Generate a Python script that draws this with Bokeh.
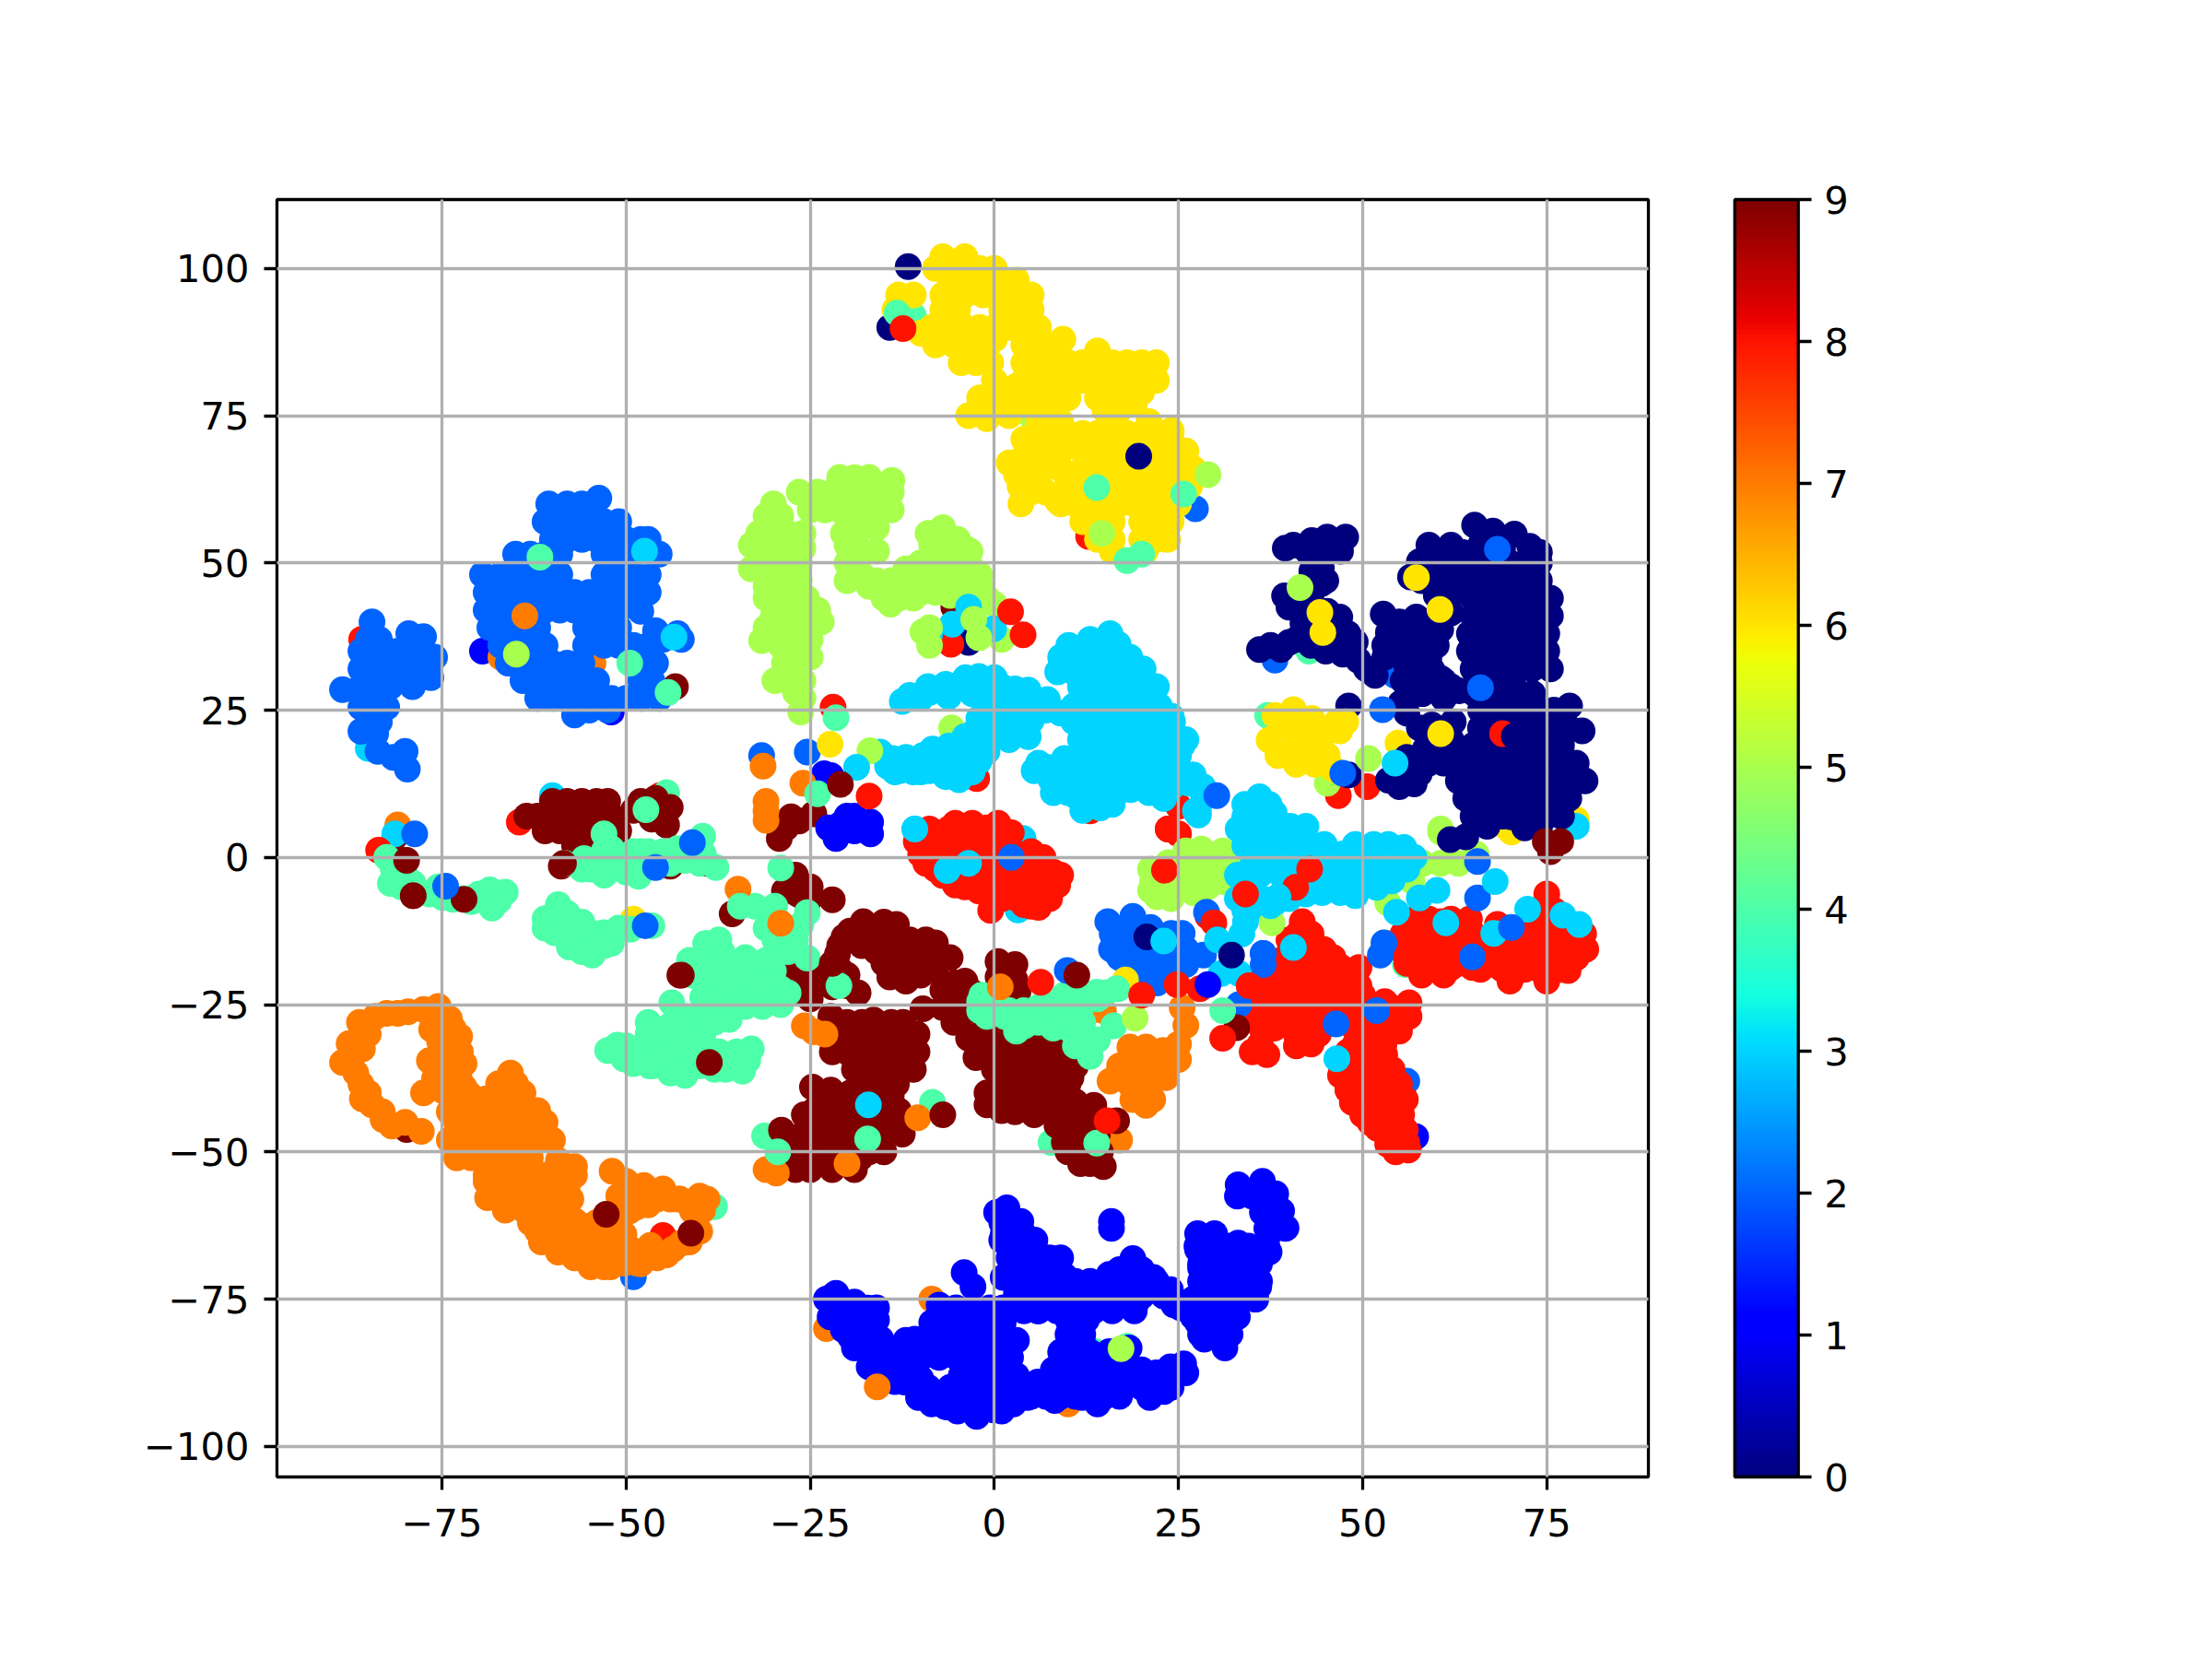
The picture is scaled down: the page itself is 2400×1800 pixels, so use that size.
import numpy as np
from bokeh.plotting import figure
from bokeh.embed import file_html
from bokeh.resources import INLINE
from bokeh.models import ColorBar, FixedTicker, LinearColorMapper

def row(y, *xs):
    return [(x, y) for x in xs]

x_ticks = [-75, -50, -25, 0, 25, 50, 75]
y_ticks = [-100, -75, -50, -25, 0, 25, 50, 75, 100]
bar_ticks = [0, 1, 2, 3, 4, 5, 6, 7, 8, 9]

points_0 = [(40.6,53),(43.1,53.8),(45.2,54.4),(47.7,54.4),(39.5,52.5),(44.4,49.1),(44.4,46.5),(39.4,44.4),(41.5,43.4),(43.1,48.6),(46.9,40.8),(45.2,41.8),(41.9,39.7),
 (36,35.3),(38.9,35.3),(42.3,37.7),(46.9,37.1),(49,36.6),(47.3,34.5),(49.4,33.5),(51.7,30.9),(44.5,36.5),(41,37),
 (52.8,41.3),(53.5,38.2),(56,38.2),(57.3,40.8),(60.6,38.7),(54.4,36.1),(56.9,35),(56,32.4),(59.4,31.9),(58.5,30.4),(60.6,30.4),(63.1,28.3),(58.1,27.8),(55.2,26.2),(58.5,40),
 (65.2,56.4),(67.7,55.4),(70.6,54.9),(72.7,52.8),(74,51.8),(59.4,51.8),(63.5,51.8),(57.7,50.2),(56.5,47.6),(66,53),(69,52.5),
 (78.1,25.7),(79.8,21.5),(76.9,23.6),(70.6,28.8),(68.5,28.3),(73.1,27.8),(65.2,27.8),(61,27),(57.7,22),(59.4,22.5),(62.3,23),
 (57.7,14.2),(53.5,13.1),(55.6,15.2),(58.5,18.4),(60.6,18.4),(63.1,18.4),(61.9,3),(64,3.5),(70.2,6.9),(66.9,5.3),
 (37.5,36),(40,36.5),(43,36),(45,35),(50.5,32),(46,39),(48,38),(43,41),(40,42.5),(43,44.5),(45,47),(42.5,52),(45,52),(47,52),(55,40),(55,36.5),(53,34),(55.5,30),(57,29),(62,29),(59,34),(60,36),(57.5,37.5),(53,36),(62,48),(59,53),(62,53),(61,30),(56,24.5),(60,20),(62,20),(56,17),(59,16),(57,12.5),(55,12)]
points_0 += row(50, 58,60,62,64,66,68,70,72,74) + row(47, 58,60,62,64,66,68,70,72,74) + row(44, 65,67,69,71,73,75.5)
points_0 += row(41, 65,67,69,71,73,75.5) + row(38, 64.5,66.5,68.5,70.5,72.5,75) + row(35, 64.5,66.5,68.5,70.5,72.5,75)
points_0 += row(32, 65,67,69,71,73,75.5) + row(44.5, 60,62) + row(41.5, 62)
points_0 += row(25, 66,68,70,72,74,76) + row(22, 66,68,70,72,74,76,78) + row(19, 65,67,69,71,73,75,77)
points_0 += row(16, 61,63,65,67,69,71,73,75,77,79) + row(13, 63,65,67,69,71,73,75,77,79,80.2)
points_0 += row(10, 64,66,68,70,72,74,76,78) + row(7, 65,67,69,71,73,75,77) + row(5, 72,74)

points_1 = [(-22.8,-75),(-20.9,-76.5),(-22.3,-78),(-20.5,-80.2),(-18.2,-78.6),(-17.2,-76.5),(-18.2,-81.8),(-15.4,-81.8),(-19,-83.3),(-16.8,-84.9),(-14.5,-86),(-15.4,-88),(-12.2,-89.1),(-11.7,-86),(-10.3,-91.7),(-8.5,-92.8),(-6.6,-93.3),
 (-10.8,-81.8),(-8.5,-79),(-7.5,-76),(-5.2,-76.5),(-2.9,-76.5),(-0.6,-76.5),(1.2,-76.5),(-8.5,-82.3),(-6.1,-81.2),(-3.4,-78.6),(-0.6,-79),(-7.5,-84.9),(-4.8,-84.9),(-2,-82.8),(0.8,-81.8),(1.2,-79),
 (-4.3,-88),(-1.5,-87),(1.2,-84.9),(2.2,-84.9),(-3.4,-91.2),(-0.6,-90.1),(1.7,-88),(-2.4,-94.9),(-0.1,-93.8),(2.6,-92.8),(-4.3,-92.2),
 (-4.1,-70.5),(-2.9,-72.9),(1.2,-71.3),
 (0.3,-60.3),(1.7,-59.5),(3.6,-61.8),(1.2,-64),(4,-64),(5.4,-65.5),(2.2,-67),(4.9,-68.1),(7.7,-68.1),(2.2,-70.8),(4.9,-71.3),(7.7,-70.8),(3.1,-73.9),(5.9,-73.9),(8.6,-73.4),(11.9,-73.9),(5.9,-77),(11,-76.5),(14.2,-76),(15.6,-70.8),(18.8,-68.1),(18.3,-71.3),(21.6,-71.3),(23.9,-73.4),(16,-73.9),(19.3,-75.5),(22.5,-73.9),(24.4,-76),(11.2,-79),(11.9,-81.8),
 (15.9,-61.8),(15.9,-63),
 (9.1,-83.9),(11.4,-84.9),(15.6,-83.9),(18.3,-83.3),(5.9,-89.1),(8.6,-90.1),(11,-88),(13.3,-89.6),(16,-88),(16.5,-90.7),(11.9,-91.7),(14,-92.8),(8.2,-92.2),(19.7,-88),(21.1,-91.7),(23,-90.7),(23.9,-86.5),(25.7,-86),(4.5,-91.7),
 (27.6,-63.9),(29.9,-63.9),(27.6,-66.6),(33.1,-55.6),(36.4,-55),(38.2,-57.1),(36.4,-60.3),(38.7,-60.8),(39.6,-62.9),(37.3,-63.9),(33.1,-65.5),(30.8,-67.1),(35,-66.6),(37.3,-67),(28,-69.7),(30.8,-70.2),(33.6,-69.2),(29,-72.9),(31.7,-72.9),(35.9,-72.9),(29.4,-75.5),(32.2,-75.5),(35.4,-75),(27.1,-76),(27.6,-79),(30.4,-78.1),(28.5,-81.8),(31.3,-80.7),(31.3,-83.3),(25.3,-76.5),
 (-22.5,5),(-21.5,3.2),(-20,7),(-19,7),(-21,5.5),(-16.8,6),(-16.8,4),(-19,4.5),
 (-21.5,-74),(-19,-75.5),(-21,-78.5),(-19,-78),(-16,-78.5),(-17,-80),(-19.5,-81.5),(-17.5,-83),(-14,-84),(-15,-83),(-13,-87),(-13.5,-89),(-11,-88),(-9,-90),(-10,-88.5),(-6,-90),(-7,-91.5),(-16,-76.5),(-13.5,-85),(-17,-86.5)]
points_1 += row(-79, -6,-3.5) + row(-82, -12,-9,-6,-3.5,-1,1,3) + row(-85, -10,-5,-2.5,0) + row(-88, -4.5,-2,0.5,3)
points_1 += row(-91, -6,-4,-1.5,1,3) + row(-94, -5,-2,1) + row(-62, 1,3.5) + row(-65, 1,3,5.5) + row(-68, 2,4.5,7.5,9)
points_1 += row(-71, 2,5,7.5,9.5) + row(-74, 3,6,8.5,11,13.5) + row(-77, 4,6,8.5,11,13.5,16,19) + row(-72, 11,13,15,17,20,22)
points_1 += row(-74.5, 14,17,20,23) + row(-78.5, 10,12.5) + row(-81, 10,12) + row(-84, 9,11,13) + row(-87, 8,10,12,14,16,18,20)
points_1 += row(-89, 7,9,12,15,17,19) + row(-91.5, 5,7,9,11,13,15,17) + row(-90, 20,22,24) + row(-87.5, 22,24,26)
points_1 += row(-66, 27.5,30,32,34.5,37) + row(-69, 28,30,32,34,36) + row(-72, 28,30,32,34,36) + row(-75, 27,29,31,33,35.5)
points_1 += row(-78, 27,29,31,33) + row(-81, 28,30,32) + row(-57.5, 33,35,37) + row(-60, 37,39) + row(-63, 37,39.5) + row(-70, 17,19,20)

points_2 = [(-53.7,61),(-56,60),(-58,60),(-60.5,60),(-47,54),(-45.5,51.5),(-47,51.5),(-49,51.5),(-51,51.5),(-53,51.5),(-59,51.5),(-61,51.5),(-63,51.5),(-65,51.5),
 (-48,41.8),(-47.4,33),(-46,33),(-48,30),(-46.5,30),(-45.5,27),(-57,24.2),(-55,25),(-52.5,25),(-43,38),(-42.5,37),(-45,37),(-46,38.5),
 (-84.5,40),(-85,37),(-83.5,37),(-79.5,38),(-77.5,37.5),(-81,35),(-78.5,35),(-76,34),(-80.5,32),(-78,31.5),(-76.5,30.5),(-79,29),(-86,35),(-84,34),(-82.5,32),(-86,32),(-84,31),(-82,29),(-88.5,28.5),(-86,29),(-84,28),(-86,25.5),(-84,25),(-82.5,25.5),
 (-85,23),(-86,21.4),(-83.5,23),(-84,21),(-83.7,18),(-81.6,17),(-80,18),(-79.7,15),(-81,17),
 (15.4,-10.9),(18.8,-10),(17.8,-11.9),(21.2,-11.9),(15.9,-15.6),(18.3,-14),(18.8,-17.1),(21.2,-16.6),(24,-12.9),(25.5,-12.9),(23.6,-15.6),(26,-15.6),(28.4,-16.6),(23,-17.6),(26,-18.2),(22.1,-21.3),(16,-13),(20.2,-12.2),(17,-17),(20,-19),(24,-19.5),(22,-19),(19,-13),(23,-14)]
points_2 += row(57, -61,-59,-57,-55,-53,-51) + row(54, -60,-58,-56,-54,-52,-50,-48)
points_2 += row(48, -69.5,-67,-65,-63,-61,-59,-53,-51,-49,-47) + row(45, -69,-67,-65,-63,-61,-59,-57,-55,-53,-51,-49,-47)
points_2 += row(42, -69,-67,-65,-63,-61,-59,-57,-55,-53,-51) + row(39, -68.5,-66,-64,-62,-55.5,-53,-51)
points_2 += row(36, -67,-65,-63,-61,-55.5,-53,-51,-49,-47) + row(33, -66,-64,-62,-60,-58,-56)
points_2 += row(30, -64,-62,-60,-58,-56,-54) + row(27, -62,-60,-58,-56,-54,-52,-50,-48)

points_3 = [(-11.5,27.5),(-8.8,28),(-6.6,29.4),(-3.9,30.5),(-2.1,30.7),(0,30.5),(-6.2,27.3),(-3,27.8),(-0.4,27.8),(2.8,28.6),(4.6,28.4),(7.2,26.8),(2.3,26.3),(5,25.7),
 (-2.1,23.6),(0,23.6),(2.3,23.6),(5,23.2),(-2.6,21.5),(0.1,21.5),(2.8,21.5),(4.6,20.5),(-2.6,19.4),(-0.8,19.4),(-12.5,26.5),
 (-8.4,18.4),(-6.2,18.9),(-3.9,18.9),(-9.7,17.3),(-11.5,15.8),(-12.9,14.7),(-8.8,14.7),(-6.6,13.7),(-4.8,13.2),(-4.4,15.3),(-2.1,16.3),(-13.8,16.8),(-15.5,17.9),(-10,14.5),
 (15.7,38),(16.8,36.2),(10.1,36),(12.5,35),(14.4,34),(16.2,34),(18.4,34),(8.6,31.5),(11.2,31),(13.5,32),(15.7,32),(17.9,32),(20.2,32),(21.1,28.9),(11.7,28.9),(14,29.4),(16.2,29.4),(18.4,29.4),(20,29),(22,24),
 (25.5,19),(25,17.3),(7.2,15.3),(9.5,16.8),(5.4,14.7),(7.7,13.2),(9.9,13.2),(20.6,14.2),(22.9,15.3),(11,10.5),(13,10),(15.2,10.5),(17.5,11.6),(14.4,8.4),
 (24.6,13.2),(26.4,12.6),(28,11.6),(27.3,7.9),(24.2,12.1),(28.3,12),(27.7,7.9),
 (36,10.3),(37.3,9),(34,6.9),(33.1,4.8),(36,6.4),(38.1,5.3),(40.2,5.3),(42.3,5.3),(44.8,2.2),(36,2.7),(38,3),(40.2,2.7),(42.3,3),(47.3,0.6),(49,2.2),(51.5,2.2),(53.5,2.2),(55.6,1.7),(46.9,-1.5),(49,-1.5),(51.5,-1.5),(53.5,-2),(56,-2),(45.6,-4.6),(47.7,-4.6),(49.8,-5.1),(51.9,-5.1),(44.4,-3.5),(42.3,-6.2),(38.1,-7.7),(36.9,-7.2),(35,-6.2),(40,-7),(36,-3),(39,-3),(42,-3),
 (-10,27),(-9,29),(-5,29),(-2,29.5),(1,29),(4,27),(7,25),(9,24.5),(-1,25.5),(2,25),(-1,22),(1.5,22.5),(4,22),(-4,20.5),(-5.5,17),(-7,16),(-9,15.5),(-11,14.5),(-7,15.5),(-3.5,17),(-1,18),(-5,15),(-3,14.5),(2,20),(-12,17),(-14.5,15.5),(-13.5,14.5),
 (13,37),(11,34),(9,34),(10,33),(13,29),(12,27),(22,29),(20,26),(24,24),(26,20),(27,14),(22,18),(24,18),(18.5,11.5),(13,12),(15,11),(16,9),(12,8),(6,16),(8,11),(10,11),(22,12),(23,10),(21,11),
 (36.5,8),(34,9),(38,7.5),(35,4),(37.5,1),(34,2),(41,0.5),(43,0.5),(44.5,0),(38,0),(41,-3),(35,-1.5),(33,-3),(33,-7),(37,-9),(34,-9),(52,0),(50,0.5),(55,0),(57,0),(50,-3.5),(46,-3),(43,-4.5),(54,-4),(52,-4),(47,-6),(49,-6.5),(44.5,-6)]
points_3 += row(25.7, 10.8,13,15.2,17.5,19.7,22.4) + row(23, 10.8,13,15.2,17.5,19.7,22,24.2)
points_3 += row(20, 11.7,14,16.2,18.4,20.6,22.9,24.9) + row(16.8, 11.7,14,16.2,18.4,20.6) + row(13.2, 12.1,14.4,16.6,18.8)

points_4 = [(-53,4),(-52,1.5),(-55.7,-0.2),(-54.8,-2),(-58.3,-1),(-50.5,0),(-50,-2.5),(-48.3,-3.2),(-52,-2),(-49,1),(-47,1),(-45,1),(-43,1.5),(-41,2),(-39.5,0.5),(-42,-0.5),(-39.6,3.6),(-37.8,-1.7),
 (-81.6,-2),(-82,-4.4),(-78.9,-4.4),(-76.7,-6.2),(-74.9,-6.8),(-73.5,-7.1),(-70,-6.2),(-68.2,-8.6),(-66.4,-5.9),(-68.5,-5.5),(-69,-7.5),(-67.3,-7.4),(-80,-3),
 (-59.2,-8),(-61,-10.4),(-59,-11),(-57,-12),(-59.7,-12.8),(-57.7,-15.2),(-55.7,-14),(-54.6,-16.6),(-53,-12.8),(-52,-14.6),(-56,-11),(-54,-13),(-49.4,-12.2),(-46.5,-11.6),
 (-39.2,-14.6),(-37.4,-14),(-41.4,-17.5),(-39,-17.5),(-36.9,-17.5),(-33.8,-17),(-39.6,-21),(-37.4,-21),(-35,-20),(-30,-19.3),(-29,-22.3),(-39.6,-23.8),(-37.4,-24),(-34.7,-23.2),(-32.5,-23.5),(-30.3,-24),(-33.8,-25.3),(-31.5,-25.3),(-43.8,-24.7),
 (-47,-28),(-52.5,-32.8),(-51.2,-31.9),(-50.3,-34.2),(-48.3,-32.5),(-46.3,-31.9),(-44,-31.9),(-44,-36.6),(-41.8,-28.9),(-39.6,-28.3),(-39.6,-30.7),(-41.8,-32.5),(-41.8,-35.4),(-46.5,-35.4),(-40,-35.4),(-37.4,-33),(-35,-33),(-33,-32.5),(-34.2,-36.3),(-36.5,-36),(-38.7,-34.2),
 (-32.5,-8.3),(-29.8,-8.3),(-26.3,-11.5),(-25.4,-9.4),(-29.8,-14),(-33.6,-17.5),(-31,-12),(-28,-13.5),
 (-1.7,-23.4),(1.4,-27),(4.1,-28.6),(7.2,-27),(9.5,-23.4),(11.7,-23.4),(13.9,-22.9),(16.8,-22.3),(9,-27),(11.3,-30),(13,-33.8),(5.9,-25.5),(16.2,-28.6),(-2,-26),(12,-32),
 (0,-25),(2,-26),(4,-26),(6,-28),(8,-25),(10,-25),(12,-25),(14,-24),(15,-23),(10,-29),(12,-28),(11,-32),(14,-31),(8,-29),(3,-29.5),(-1,-27),(-2,-24.5),
 (-37,-16),(-35,-18),(-38,-19),(-41,-20),(-36,-22),(-33,-21),(-31,-21),(-29,-25),(-28,-23),(-35,-25),(-37,-26),(-40,-26.5),(-38,-28),(-36,-27.5),(-31,-17.5),(-28,-16),(-27,-14),
 (-50,-32),(-49,-35),(-46,-33.5),(-44,-34),(-43,-30),(-45,-29.5),(-47,-30),(-42,-37),(-39,-33),(-36,-34),(-33.5,-34.5),(-38,-36),(-42,-27),(-44,-28.5),
 (-78,-6),(-72,-7),(-71,-7.5),(-75.5,-5),(-80.5,-5),(-60,-10),(-58,-9.5),(-58,-13.5),(-61,-12),(-53,-15),(-51,-12),(-56,-16),(-53,1),(-51,-0.5),(-48,1),(-46,-0.5),(-44,-1),(-40,-1),(-56,-2),(-53,-3)]

points_5 = [(-21,64.5),(-19,64.5),(-17,64.5),(-13.9,64),(-20,53),(-18,52),(-16,52),(-18,56),(-16,56),(-20.5,55),(-20,50),(-18,48),(-16,47),(-14,45),(-12,46),(-10,47),(-8,48),(-6,47),(-4,47),(-2,46),(-1,44),(-14.1,43),
 (-6.7,54.5),(-8.5,53),(-5,54),(-10,50),(-7,51),(-4,51),(-3.3,52),(-12,47),(-10,45),(-5.7,46),(-1.9,46),(0,43),
 (-31,58),(-29,58),(-32,51),(-30,50),(-28,50),(-26.5,50),(-29.5,47),(-27.5,47),(-31,44),(-29,44),(-27,44),(-25.5,44),(-30,41),(-28,41),(-26,41),(-30,38),(-28.5,38),(-26.5,38),(-23.5,40),(-31.6,36.8),(-29,36),(-27,36),(-28.5,33),(-27.5,33),(-28,30),(-29.8,30),(-27,28),(-26.3,24.7),
 (21.2,-2),(23.6,-0.9),(26,1.1),(28.1,1.4),(31,1.1),(21.2,-5.6),(23.6,-5.6),(26,-4.6),(26.9,-2),(29.3,-2),(31,-4.1),(31.7,-1),(22.1,-6.7),(24,-7),(34.1,-3),
 (58.2,-1),(60.6,-1),(63,-1),(65.4,0.6),(53.4,-7.7),(56.7,-4),(60.6,4.8),
 (-20,47),(-17,46),(-15,44),(-13,44),(-11,44),(-8,45),(-6,44.5),(-4,45),(-8,50),(-10,48),(-5,49),(-3,49),(-6,52),(-14,47),(-12,49),(-9,55),(-7,56),(-4,52.5),(-2,48),
 (-24,42),(-25,37),(-25,34),(-27,31),(-26,27),(-31,39),(-31,46),(-33,49),(-31,54),(-30,60),(-33,53),(-26.5,47),(-26,30),(22,-3),(25,-3),(28,0),(30,-3.5),(27,-6),(24,-3),(32,-2.5),(21.5,-4),(26,-1),(29,-5)]
points_5 += row(62, -26.5,-24,-22,-20,-18,-16,-14) + row(59, -25,-23,-21,-19,-17,-15,-14) + row(55, -32,-30,-28,-26) + row(52.5, -32,-30,-28,-26)

points_6 = [(-7,102),(-4,102),(-8,100),(-5,100),(-2,100),(0,100),(-6,98),(-3,98),(0,98),(3,98),(-13,95.5),(-11,95.5),(-7,95.5),(-4,95.5),(-1.5,95.5),(2,95.5),(5,95.5),(-13.5,93),(-7,93),(-5,93),(1,93),(3.5,93),(5,93),
 (-8.5,90),(-6,90),(-4,90),(-2,90),(0,90),(2,90),(4,90),(6,90),(-8,87),(-5.5,87),(-3,87),(-1,87),(4,87),(6,87),(7,87),(-4.5,84),(-2.5,84),(-0.5,84),(4,84),(6,84),(8,84),(10,84),(12,84),(14,84),(16,84),(18,84),(20,84),(22,84),(9.3,88),(14,86),
 (4,81),(6,81),(8,81),(10,81),(12,81),(14,81),(16,81),(18,81),(20,81),(22,81),(-3.5,75),(-2,78),(-1,74.5),(1,76),(0,81),(3,80),(2,75),(5,77),(7,79),(8,76),(16,79),(15,76),(17,76),(19,77),
 (2,67),(3,65),(5,68),(7,70),(4,71),(7,67),(9,69),(9,66),(3.6,60),(3.5,63),(8.6,60.5),(24,72.5),(20.5,52),(16,52),
 (-7,88),(-4,88),(-2,88),(0,88),(5,88),(-10,89),(-3,84.5),(2,78),(4,79),(6,75),(0,78),(10,78),(18,79),(20,79),(14,78),(9,74),(6,73),(21,74),(26.5,63),(27,66),(10,64),(7,62),(5,62),(6,64.5),(4,68),(13,69.5),(19,69),(22,72)]
points_6 += row(72, 8,10,12,14,16,18,20,22,24) + row(69, 12,15,17,22,24,26) + row(66, 12,14,16,18,20,22,24,26.5)
points_6 += row(63, 10,12,14,16,18,20,22,24,26) + row(60, 9,11,13,15,17,19,21,23,25) + row(57, 12,14,16,20,22,24) + row(54, 14,16,20,22,23.5)
points_6 += [(40.6,25.1),(38.1,24.1),(43.1,23.6),(46.5,23),(47.7,23),(37.3,19.9),(39.8,22),(42.3,21),(44.8,21),(46.9,21.5),(38.5,17.3),(40.6,18.4),(43.1,18.4),(45.2,17.3),(41,15.8),(43.5,15.8),(46,15)]

points_7 = [(-86.2,-28),(-82.5,-26.5),(-79.6,-26.2),(-75.5,-25.3),(-74,-27.4),(-76.4,-29.2),(-72.6,-30.4),(-75.3,-31.3),(-87.6,-31.6),(-85.8,-32.5),(-88.5,-34.8),(-86.7,-36.6),(-85.8,-41),(-83.1,-43.2),(-81.8,-45.6),(-77.8,-46.5),(-76.7,-34.5),(-74,-34.8),(-72.6,-37.8),(-77.5,-40),(-74.9,-39.6),(-74,-43.2),(-71.3,-40.2),(-65.7,-36.6),(-65,-38.4),(-67.3,-38.4),(-66.4,-41.4),
 (-68.8,-57.8),(-66.4,-59.9),(-63.7,-60),(-59.2,-51.5),(-57,-54),(-59.7,-54.5),(-60.6,-57.5),(-57.5,-58),(-57,-61.7),(-61.5,-65.3),(-59.2,-67),(-61,-62.3),(-58,-64),(-55.2,-67.7),(-54.8,-69.5),(-52.1,-69.5),(-55.7,-64.7),(-53.9,-64),(-50.3,-68.9),(-48.5,-68.9),(-45.8,-68),(-43.6,-66.5),(-49.4,-66.5),(-46.7,-65.9),(-41.4,-65.3),(-40,-63.5),
 (-51.9,-53.3),(-51,-57.5),(-50.8,-61),(-50.3,-64),(-47.6,-55.7),(-45,-56.3),(-42.7,-58),(-40,-57.5),(-39.6,-59.9),(-48.5,-59.3),(-45.8,-58),
 (18.4,-32.2),(20.6,-32.2),(25.5,-25.5),(25,-31.7),(25,-34.3),(22.9,-32.8),(17,-35.4),(19.3,-35.4),(22,-35.4),(15.7,-38),(18.4,-38.5),(21,-38.5),(23.3,-37.4),(18.8,-41.1),(21.5,-41.1),(20.6,-42.1),(15.7,-46.3),(13.9,-47.9),(17,-48),(12.6,-26.5),(14.8,-26),(26,-28.5),
 (-84,-27),(-81,-26.5),(-77.5,-25.8),(-85,-30),(-87,-33.5),(-86,-38.5),(-85,-40),(-84.5,-42),(-80,-45),(-83,-44.5),(-72.5,-33),(-73.5,-29),(-72,-35),(-76,-37.5),(-75,-36.5),(-72,-42),(-72,-39),(-69,-41),(-66,-43),(-62,-43),(-64,-40),(-67,-43),
 (-69,-55),(-65.5,-59),(-66,-57),(-62,-59),(-60.5,-60),(-59,-60),(-63,-62),(-62,-63.5),(-60,-65),(-58,-66),(-57,-68),(-56,-62.5),(-54,-62),(-53,-66),(-51,-67),(-52,-62),(-49.5,-60),(-48,-57),(-50,-55),(-46.5,-67),(-44.5,-67.5),(-42.5,-65.5),(-41,-64),(-43,-58),(-41,-60),(-39,-58),(-47,-59),(-44,-58),(-48,-69),(-53,-68),(-53,-69.5),(-57,-52.5),(-58,-56),(-61,-54),(-55,-66)]
points_7 += row(-45, -73,-71,-69,-67,-65,-63,-61) + row(-48, -74,-72,-70,-68,-66,-64,-62,-60) + row(-51, -73,-71,-69,-67,-65,-63) + row(-54, -69,-67,-65,-63) + row(-57, -67,-65,-63) + row(-42, -70,-68,-64)

points_8 = [(41.8,-10.9),(41.3,-12.9),(44.7,-15.6),(41.3,-15.6),(39.4,-17.1),(42.3,-17.6),(44.7,-18.2),(47.1,-18.7),(49.5,-18.7),(35.1,-21.3),(37.5,-20.3),(40.4,-20.3),(43,-20.3),(46.2,-21.3),(49.5,-21.8),(50,-23.4),(36,-23.9),(40.9,-25.5),(43.8,-24.4),(36.5,-26),(40.4,-28.1),(43.3,-27.6),(36.1,-28.6),(36.1,-31.7),(43,-31.7),(42.3,-29.6),(45.2,-27),(48.6,-25.5),(53.9,-25.5),(56.3,-24.7),(56.3,-27),(54.8,-27.6),(51,-28.6),(48.6,-28.6),(52.9,-31.7),(49,-31.7),(51,-32.8),(47.1,-35.4),(49.5,-35.4),(52.4,-35.4),(54.3,-38),(48,-38),(51,-38.5),(48.6,-41.6),(51,-40.6),(53.6,-40),(55.8,-41.1),(50,-43.7),(52.4,-43.7),(55.3,-43.7),(53.4,-47.4),(55.8,-46.3),(53.4,-48.7),(56.2,-49.7),(38.5,-23),(38.5,-26),(34.6,-21.8),
 (57.7,-12.4),(60.6,-10.9),(57.2,-15.6),(59.6,-15.6),(62,-15.6),(63.9,-11.4),(65.4,-14),(58.2,-18.7),(62,-18.7),(64.9,-18.7),(67.8,-18.2),(70.2,-20.3),(70.2,-17.6),(73.1,-18.2),(75.5,-19.7),(78.4,-17.1),(80.3,-15.6),(77.9,-19.2),(75.5,-16.5),(73.8,-11.6),(75,-6.2),(76.9,-15),(68.3,-11.4),(60,-13),
 (-8.8,4.8),(-10.6,2.7),(-8.4,2.7),(-6.2,2.7),(-5.3,5.8),(-3,5.8),(0.5,5.8),(2.3,4.2),(-6.2,4.8),(-3.9,3.2),(-1.7,3.2),(0.5,3.2),(-9.3,-1),(-7,-1),(-4.8,0.6),(-2.6,0),(-3.5,-3.1),(-1.7,-4.1),(-2.1,-5.7),(-7,-3.1),(-5.3,-4.7),(1.4,-1),(6.6,0),(4.1,-2),(6.8,-2),(8.6,-4.7),(1.4,-4.7),(3.7,-4.7),(6.3,-4.7),(5,-8.3),(6.8,-6.8),(2.8,-6.8),(0,-1),(-1,-3),
 (-7,4),(-4,4.5),(-1,5),(-10,0.5),(-7.5,1),(-5.5,-2),(-3,-1.5),(-8,-2),(0,1),(2.5,1),(5,1),(3,-2.5),(7,-4.5),(5,-5),(3,-6),(7.5,-7),(6,-8.5),(4,-8),(8,-2.5),(-1.5,-1.5),(-4,-5),(-0.5,-5),(1,-7),(9,-3),
 (38.5,-18),(37,-22),(39,-21.5),(41,-23),(43,-22.5),(46,-24),(44,-19),(46,-17),(47,-21),(39,-27),(38,-29),(35,-26),(42,-26),(45,-25),(47,-23.5),(49,-26),(51,-26),(53,-24.5),(52,-28),(55,-29.5),(50,-29),(52,-30),(48,-33),(50,-34),(53,-33.5),(54,-36),(47,-37),(49,-40),(52,-37),(55,-38.5),(50,-42),(53,-42),(48,-39.5),(52,-46),(54.5,-45),(51,-45),(56,-48.5),(54.5,-50),(41,-30),(44,-30),(41,-32),(37,-33.5),(35,-33),(40,-14),(43,-13)]
points_8 += row(-10.5, 57,59,62,64.5) + row(-13, 55.5,58,60.5,63,65,72,76,78,80) + row(-16, 55.5,64,66) + row(-18, 56,60,63,66) + row(-20, 58,61)
points_8 += row(-15, 67,70,72,74,78.5) + row(-17, 68,72,74,77,79) + row(-19, 66,69,72,74,77) + row(-21, 70,75) + row(-9, 74,76)

points_9 = [(-48,9.5),(-46,10),(-44,8.5),(-44.5,5.5),(-46.5,6.5),(-49,8),(-58.8,-1.5),
 (-19.6,-12.5),(-17.8,-10.9),(-20.4,-13.5),(-16,-13),(-13.8,-13.5),(-13.3,-11.4),(-14.6,-15.6),(-11.5,-14),(-9.3,-14),(-7.9,-16.6),(-10.6,-16.6),(-12.4,-17.1),(-14.2,-20.3),(-12,-19.2),(-9.7,-18.2),(-7.5,-17.7),
 (-28,-16.6),(-25.8,-20.3),(-26.7,-21.3),(-24.5,-21.8),(-22,-19.7),(-21.3,-16.4),(-20,-21.8),(-28.5,-19.2),
 (-5.3,-21.3),(-5.7,-23.4),(-3,-22.9),(-9.7,-25.7),(-5.3,-24.9),(-3.5,-25.5),(-5.5,-28),(0.5,-17.7),(2.8,-18.2),(0.5,-20.3),(2.8,-20.8),(3.2,-22.9),(0.5,-22.9),
 (-3.5,-30.7),(-2.1,-30.7),(-1.7,-32.8),(1.9,-31.2),(4.1,-30.7),(6.8,-30.2),
 (0.5,-41.1),(2.8,-43.2),(5.4,-43.7),(7.7,-41.1),(10.4,-44.2),(13,-44.2),(13.5,-42.1),(9.5,-48.4),(14.4,-50),(11.7,-52),(14.8,-52.5),(16.6,-44.7),(10.4,-37.4),(12,-47),
 (-22.2,-27),(-16.4,-27.6),(-12.4,-28),(-17.8,-37),(-13.8,-35.4),
 (-24.7,-39),(-22.2,-39.5),(-19.6,-40),(-13.3,-38.5),(-15.5,-39),(-17.3,-40),(-25.8,-43.7),(-23,-42),(-20.4,-41.6),(-18.2,-43.2),(-16,-43.7),(-24.5,-45.8),(-21.8,-45.3),(-19.1,-45.8),(-16.4,-46.8),(-13.8,-45.8),(-26.7,-48.4),(-24,-48.4),(-21.3,-48.4),(-18.7,-48.9),(-15.5,-47.9),(-26.7,-51.5),(-23.6,-51.5),(-18.2,-51),(-28.9,-46.3),
 (-24.5,7.4),(-27.6,6.9),(-29.2,3.2),(-28.3,5),(-26.5,6.2),(-27.4,-4.1),(-26.7,-6.2),(-25.4,-7.8),(-28.5,-5.7),(-27,-3),(-35.6,-9.6),(-22,-7.2),(-25,-5),
 (-18,-13),(-18,-15),(-15,-11),(-12,-15.5),(-10,-15),(-8,-14.5),(-12,-21),(-10,-20),(-8,-19),(-14,-18),(-16,-16),(-15,-18),(-6,-17),
 (-27,-18),(-25.5,-18),(-23,-19),(-27,-23),(-25,-24),(-22,-22),(-24,-20),(-21,-19),(-20,-20),(-21,-15),(-28,-21),(-18.5,-23),
 (-4,-24),(-7,-22.5),(-4,-21),(-7,-25.5),(-5,-27),(-2,-29),(0,-30),(2,-29.5),(-1,-34),(-2.5,-34),(3,-33.5),(-1,-31),(-1,-42),(-1,-40),(1,-43),(3,-40.5),(5,-41),(7,-43),(9,-42),(11,-41.5),(8.5,-45.5),(11,-46.5),(10,-38.5),(8,-39.5),(6,-38.5),(11,-35.5),(14,-47),(12.5,-49),(11,-50),(13,-52),(10,-50),(1,-39),(0,-36)]
points_9 += row(9.5, -60,-58,-56,-54,-52.5) + row(7, -63.5,-62,-60,-58,-56,-54,-52) + row(4.5, -61,-59,-57,-55,-53,-51) + row(2, -57,-55,-53,-51)
points_9 += row(-32, 0,2,4,6,8) + row(-35, 1,3,5,7,9) + row(-38, 2,4,6,8) + row(-41, 3,5)
points_9 += row(-30, -22,-20,-18,-16,-14,-12,-10.5) + row(-33, -22,-20,-18,-16,-14,-12,-10.5) + row(-36, -19,-17,-15,-13,-11)
points_9 += row(-28, -20,-18,-14) + row(-40.5, -18,-16,-14) + row(-43, -24.5,-21.5,-19,-17,-13) + row(-47, -26,-23,-21,-18,-15,-12.5) + row(-50, -28,-25,-22,-20,-17,-15) + row(-53, -27,-25,-22,-19)

behind_x = [-11.7,-14.2,-11,5,12.6,12.8,27.3,-85.9,-85,-80,-69.5,-67,-54.5,-43.3,-52,-64.5,-45.4,-44.5,-60,-79.8,-38,-49,-42.7,-32.5,-38.7,-39,-44,-78.9,-49,-8.5,-22.8,-21.9,10,13.7,18,-5.5,-3.5,-5.9,1,-2.4,13,-5.8,-4.2,25,-0.5,3.9,3.2,-10.8,23.6,25,-7,7.7,-31.2,-8.4,79,79,70.2,69.4,60.6,37.1,48.1,42.7,38.1,59.8,54.4,46.7,50.6,45.2,54.8,-4.2,34,29,55.8,52.9,56,57.2,48.1,-45,-81,-81.4]
behind_y = [100.3,90,92,75,63,54.5,59.2,37,18.5,-0.5,35,34,33,29,24.7,6,10.5,11,10.5,-46.2,-59.3,-71.2,-20,-21,-34.8,-1,-1.5,-6.5,-10.5,-75,-80,-74.4,-92.8,-83.9,-83,42.5,36.5,36.2,37,13.4,7.9,22,28.9,4,-9,3.2,-8.9,4.8,4.8,8.7,-1.5,-48.4,-47.3,-41.6,6.4,5.3,4.3,5.3,4.3,24.1,25.7,35,33.5,37.7,30.9,10.5,12,12.6,19.4,28.9,-6,-10,-18.2,-14.5,-38,-47.4,14,-64.2,5.5,3.5]
behind_c = [0,0,4,5,8,8,2,8,3,9,1,7,7,9,1,8,8,4,3,9,4,2,9,9,9,9,9,9,6,7,7,9,7,4,4,9,0,8,5,8,8,5,8,8,8,3,3,3,8,8,5,4,4,4,6,3,6,6,5,4,0,4,2,9,2,8,8,5,6,8,8,8,4,5,2,1,0,8,7,9]

top_x = [-13.2,-12.4,19.6,13.9,25.7,29,14.6,18,20,-61.7,-63.75,-64.9,-43.5,-49.5,-44.3,-47.5,-81.4,-78.7,-83.6,-82.5,-79.8,-47.3,-58.5,-72,-74.5,-78.9,-41,-46,-52.7,-41.2,-47.4,-38.7,-42.5,-46.8,
 -31.6,-31.4,-31,-31,-31,-25.4,-22.3,-21.9,-21.5,-16.9,-18.7,-23.1,-22.2,-26,-24,-20.9,-17,-29,-34.8,-34.5,-29,-25.4,-21.1,-22,
 -8.8,-5.7,-3.5,-0.1,2.2,3.9,-9.7,-2.1,-2.8,-10.8,-6.4,2.3,
 0.8,6.3,9.9,11.2,-24.5,-25.8,-23,19.1,-17.2,-17.1,-10.4,-7,-29.6,-31,-29.4,-20,13.9,15.3,
 17.2,-15.9,36.5,40.6,42.8,40.9,34.1,28.8,29.8,37.7,33.6,34.1,30.3,37.5,38.5,30.8,33.2,36.5,36.5,32.2,33.2,32.9,31,31,34.6,
 46.4,46.5,51.9,61.3,64.9,57.7,60.1,65.6,68,65.6,54.6,52.9,52.4,67.8,72.4,77.2,79.4,70.2,
 20.7,23,17.8,16.6,20,24.8,27.9,29,23.1,23.6,27.7,
 57.3,60.5,68.3,44.2,44.6,41.5,52.7,74.8,76.9,75.5,60.6,69,70.6,47.3,54.4,50.8,66,30.2,
 -6.4,-3.5,-8.8,-8.8]
top_y = [92.4,89.8,68.1,62.8,61.7,65,55,50.4,51.5,51,41,34.5,37.4,33,28,52,4,4,1.2,0,-0.5,8.1,-1,-7.1,-4.9,-6.5,2.5,-1.7,-60.6,-63.8,-11.6,-34.8,-20,-35.4,
 17.3,15.5,7.9,9.5,6.3,17.9,19.2,25.5,23.7,18.1,15.3,14.2,13.9,12.6,10.8,12.4,10.4,-1.8,-5.4,-8.3,-11.2,-17.1,-21.8,-18,
 37.8,39.6,42.5,38.8,41.7,37.8,38.3,37.3,40.4,4.8,-2.2,0,
 -22,-21.2,-19.2,-20,-29.6,-28.6,-30,-27.3,-47.8,-42,-44.2,-43.7,-53.6,-53,-50,-52,-48.5,-44.7,
 -83.4,-89.9,-16.3,-15.3,-2,-5.1,-6.2,-9.3,-11.1,-11.1,-13,-10.9,-14,-8.2,-6.7,-19.7,-19.7,-18.2,-16.3,-16.6,-25,-28.9,-30.7,-26,-21.8,
 -28.3,-34.2,-26,-11.1,-16.9,-6.9,-5.6,-6.9,-4.1,-0.7,-9.3,-14.5,-16.6,-12.9,-8.8,-9.8,-11.4,-11.9,
 -13.5,-14.2,-20.8,-22.3,-23.4,-21.6,-22.3,-21.6,-2.2,4.8,7.2,
 47.5,42.1,52.3,41.6,38.2,45.8,25.1,2.7,2.7,1,21,21,20.6,14.3,16,16.8,28.8,10.5,
 -2.2,-1,39,36]
top_c = [4,8,0,4,4,5,5,4,4,4,7,5,3,4,4,3,3,2,8,4,9,4,9,9,2,9,2,2,9,9,2,9,9,4,
 2,7,7,7,7,2,6,8,4,5,3,1,1,7,4,9,8,4,7,4,7,4,4,9,
 3,3,3,3,8,8,5,5,5,3,3,2,
 7,8,2,9,7,7,7,5,4,3,7,9,7,7,4,7,4,8,
 5,7,2,3,8,8,8,2,8,5,3,3,3,3,3,3,3,2,2,0,2,9,8,4,8,
 2,3,2,3,2,3,3,2,3,2,3,2,2,3,3,3,3,2,
 0,3,6,4,8,8,8,1,8,8,3,
 6,6,2,6,6,5,2,9,9,9,6,8,0,2,3,5,2,2,
 3,3,5,5]

def jet(v):
    t = np.asarray(v, dtype=float)
    r = np.interp(t, [0, .35, .66, .89, 1], [0, 0, 1, 1, .5])
    g = np.interp(t, [0, .125, .375, .64, .91, 1], [0, 0, 1, 1, 0, 0])
    b = np.interp(t, [0, .11, .34, .65, 1], [.5, 1, 1, 0, 0])
    return ["#%02x%02x%02x" % (int(a * 255), int(c * 255), int(d * 255)) for a, c, d in zip(r, g, b)]

palette = jet(np.linspace(0, 1, 256))
class_colors = jet(np.array(bar_ticks) / 9)

p = figure(width=2384, height=1784, output_backend="svg", toolbar_location=None,
           x_range=(-97.4, 88.8), y_range=(-105.2, 111.7),
           min_border_left=300, min_border_right=596, min_border_top=216, min_border_bottom=182)
p.background_fill_color = "white"
p.border_fill_color = "white"
p.outline_line_color = "black"
p.outline_line_width = 3.3

SIZE = 29
def dots(xs, ys, cols):
    p.scatter(list(xs), list(ys), size=SIZE, color=list(cols), line_color=None)

dots(behind_x, behind_y, [class_colors[c] for c in behind_c])
for pts, c in [(points_7, 7), (points_9, 9), (points_4, 4), (points_2, 2), (points_1, 1),
               (points_5, 5), (points_3, 3), (points_8, 8), (points_0, 0), (points_6, 6)]:
    dots([a for a, _ in pts], [b for _, b in pts], [class_colors[c]] * len(pts))
dots(top_x, top_y, [class_colors[c] for c in top_c])

fmt = lambda v: str(v).replace("-", "\u2212")
for ax, ticks, standoff in ((p.xaxis[0], x_ticks, 20), (p.yaxis[0], y_ticks, 16)):
    ax.ticker = FixedTicker(ticks=ticks)
    ax.major_label_overrides = {t: fmt(t) for t in ticks}
    ax.major_label_text_font = "DejaVu Sans"
    ax.major_label_text_font_size = "41.67px"
    ax.major_label_text_color = "black"
    ax.major_tick_in = 0
    ax.major_tick_out = 14
    ax.major_tick_line_width = 3.3
    ax.major_tick_line_color = "black"
    ax.minor_tick_line_color = None
    ax.axis_line_color = None
    ax.major_label_standoff = standoff
p.yaxis[0].major_label_orientation = "horizontal"

for g in (p.xgrid[0], p.ygrid[0]):
    g.level = "overlay"
    g.grid_line_color = "#b0b0b0"
    g.grid_line_width = 3.3
p.xgrid[0].ticker = FixedTicker(ticks=x_ticks)
p.ygrid[0].ticker = FixedTicker(ticks=y_ticks)

mapper = LinearColorMapper(palette=palette, low=0, high=9)
cb = ColorBar(color_mapper=mapper, ticker=FixedTicker(ticks=bar_ticks),
              major_label_overrides={t: str(t) for t in bar_ticks},
              width=69, height=1386, location=(1581.7, 0), padding=0, margin=0,
              major_tick_in=0, major_tick_out=14, major_tick_line_color="black", major_tick_line_width=3.3,
              minor_tick_line_color=None, bar_line_color="black", bar_line_width=3.3,
              major_label_text_font="DejaVu Sans", major_label_text_font_size="41.67px",
              major_label_text_color="black", label_standoff=14,
              background_fill_color=None, border_line_color=None)
p.add_layout(cb, "center")

open("out.html", "w").write(file_html(p, INLINE))
